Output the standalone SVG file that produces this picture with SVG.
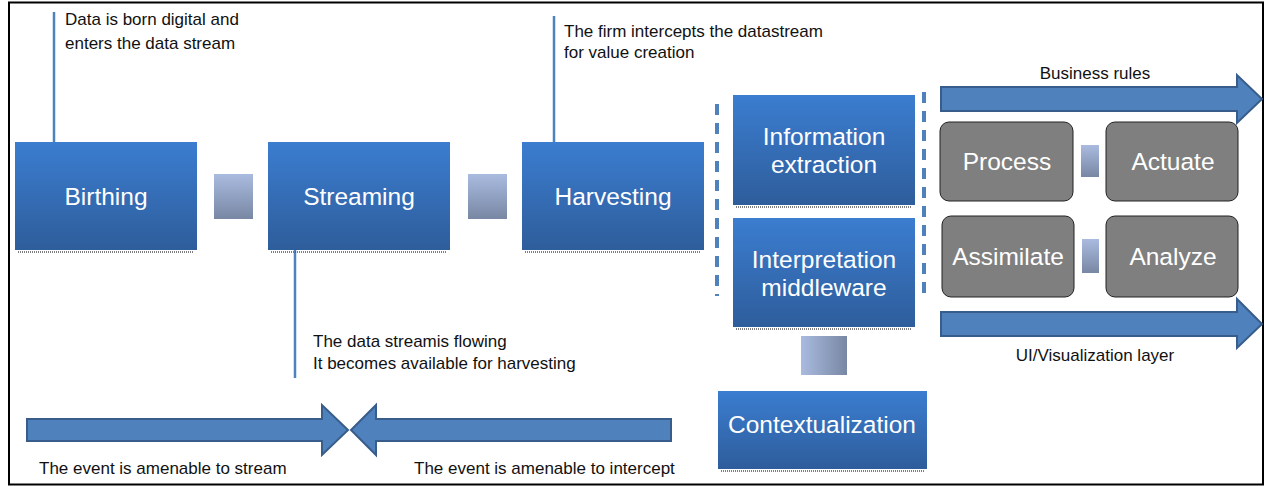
<svg xmlns="http://www.w3.org/2000/svg" width="1266" height="486" viewBox="0 0 1266 486">
<defs>
<linearGradient id="gBox" x1="0" y1="0" x2="0" y2="1">
<stop offset="0" stop-color="#3b7dd0"/>
<stop offset="1" stop-color="#2e5d9b"/>
</linearGradient>
<linearGradient id="gSqV" x1="0" y1="0" x2="0" y2="1">
<stop offset="0" stop-color="#aabbe0"/>
<stop offset="1" stop-color="#7887a3"/>
</linearGradient>
<linearGradient id="gSqH" x1="0" y1="0" x2="1" y2="0">
<stop offset="0" stop-color="#aabbe0"/>
<stop offset="1" stop-color="#7887a3"/>
</linearGradient>
</defs>
<style>
.box{fill:url(#gBox)}
.shadow{stroke:#555;stroke-width:1.5;stroke-dasharray:1 1;fill:none}
.gray{fill:#7f7f7f;stroke:#222;stroke-width:1}
.big{font-family:"Liberation Sans",Arial,sans-serif;font-size:24.5px;fill:#fff;text-anchor:middle}
.small{font-family:"Liberation Sans",Arial,sans-serif;font-size:17px;fill:#111}
.call{stroke:#4f81bd;stroke-width:2.5}
.dash{stroke:#4f81bd;stroke-width:4;stroke-dasharray:11 8;fill:none}
.arrow{fill:#4f81bd;stroke:#385d8a;stroke-width:2}
</style>
<rect x="9" y="2.5" width="1254" height="482" fill="#fff" stroke="#000" stroke-width="2"/>

<g id="connectors">
<line class="call" x1="54" y1="12" x2="54" y2="142"/>
<line class="call" x1="554" y1="16" x2="554" y2="142"/>
<line class="call" x1="295" y1="250" x2="295" y2="378"/>
<rect x="214" y="174" width="39" height="45" fill="url(#gSqV)"/>
<rect x="468" y="174" width="39" height="45" fill="url(#gSqV)"/>
<rect x="801" y="336" width="46" height="39" fill="url(#gSqH)"/>
<rect x="1081" y="145" width="18" height="32" fill="url(#gSqV)"/>
<rect x="1082" y="239" width="17" height="34" fill="url(#gSqV)"/>
<line class="dash" x1="717" y1="104" x2="717" y2="296"/>
<line class="dash" x1="924" y1="92" x2="924" y2="296"/>
<path class="arrow" d="M941,87 H1237 V75 L1262,99 L1237,123 V111 H941 Z"/>
<path class="arrow" d="M941,312 H1237 V299 L1262,324 L1237,348 V336 H941 Z"/>
<path class="arrow" d="M27,419 H322 V405 L348,430 L322,455 V441 H27 Z"/>
<path class="arrow" d="M671,419 H376 V405 L351,430 L376,455 V441 H671 Z"/>
</g>

<g id="text-labels">
<text class="small" x="65" y="25">Data is born digital and</text>
<text class="small" x="65" y="49">enters the data stream</text>
<text class="small" x="564" y="37">The firm intercepts the datastream</text>
<text class="small" x="564" y="58">for value creation</text>
<text class="small" x="313" y="347">The data streamis flowing</text>
<text class="small" x="313" y="369">It becomes available for harvesting</text>
<text class="small" x="1095" y="79" text-anchor="middle">Business rules</text>
<text class="small" x="1095" y="361" text-anchor="middle">UI/Visualization layer</text>
<text class="small" x="39" y="474">The event is amenable to stream</text>
<text class="small" x="414" y="474">The event is amenable to intercept</text>
</g>

<g id="birthing">
<rect class="box" x="15" y="142" width="182" height="108"/>
<line class="shadow" x1="18" y1="252" x2="194" y2="252"/>
<text class="big" x="106" y="205">Birthing</text>
</g>
<g id="streaming">
<rect class="box" x="268" y="142" width="182" height="108"/>
<line class="shadow" x1="271" y1="252" x2="447" y2="252"/>
<text class="big" x="359" y="205">Streaming</text>
</g>
<g id="harvesting">
<rect class="box" x="522" y="142" width="182" height="108"/>
<line class="shadow" x1="525" y1="252" x2="701" y2="252"/>
<text class="big" x="613" y="205">Harvesting</text>
</g>
<g id="information-extraction">
<rect class="box" x="733" y="95" width="182" height="110"/>
<line class="shadow" x1="736" y1="207" x2="912" y2="207"/>
<text class="big" x="824" y="145">Information</text>
<text class="big" x="824" y="173">extraction</text>
</g>
<g id="interpretation-middleware">
<rect class="box" x="733" y="218" width="182" height="109"/>
<line class="shadow" x1="736" y1="329" x2="912" y2="329"/>
<text class="big" x="824" y="268">Interpretation</text>
<text class="big" x="824" y="296">middleware</text>
</g>
<g id="contextualization">
<rect class="box" x="718" y="391" width="209" height="78"/>
<line class="shadow" x1="721" y1="471" x2="924" y2="471"/>
<text class="big" x="822" y="433">Contextualization</text>
</g>
<g id="process">
<rect class="gray" x="940" y="122" width="133" height="79" rx="9"/>
<text class="big" x="1007" y="170">Process</text>
</g>
<g id="actuate">
<rect class="gray" x="1106" y="122" width="132" height="79" rx="9"/>
<text class="big" x="1173" y="170">Actuate</text>
</g>
<g id="assimilate">
<rect class="gray" x="942" y="216" width="132" height="81" rx="9"/>
<text class="big" x="1008" y="265">Assimilate</text>
</g>
<g id="analyze">
<rect class="gray" x="1106" y="216" width="132" height="81" rx="9"/>
<text class="big" x="1173" y="265">Analyze</text>
</g>
</svg>
